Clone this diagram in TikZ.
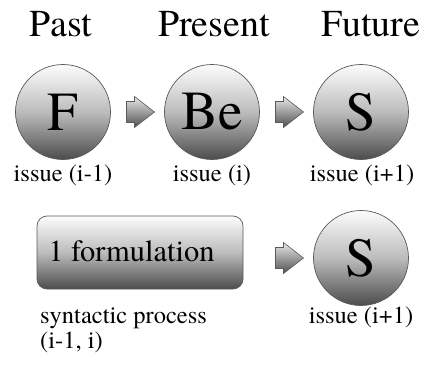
\documentclass[tikz,border=0pt]{standalone}
\usepackage{fontspec}
\setmainfont{texgyretermes}[Extension=.otf, UprightFont=*-regular, BoldFont=*-bold]
\newfontfamily\tmsfont{texgyretermes}[Extension=.otf, UprightFont=*-regular]
\usetikzlibrary{calc}
\definecolor{sbot}{HTML}{4C4C4C}
\definecolor{smid}{HTML}{BCBCBC}
\definecolor{stop}{HTML}{FCFCFC}
\definecolor{edgec}{HTML}{5A5A5A}
\definecolor{abot}{HTML}{505050}
\definecolor{atop}{HTML}{E8E8E8}
\pgfdeclareverticalshading{ballsh}{100bp}{color(0bp)=(sbot); color(25bp)=(sbot); color(50bp)=(smid); color(75bp)=(stop); color(100bp)=(stop)}
\pgfdeclareverticalshading{arrsh}{100bp}{color(0bp)=(abot); color(25bp)=(abot); color(75bp)=(atop); color(100bp)=(atop)}
\tikzset{
  every node/.style={font=\tmsfont},
  ball/.style={circle, draw=edgec, line width=0.7pt, shading=ballsh, minimum size=95pt, inner sep=0pt, font=\tmsfont\fontsize{55}{55}\selectfont},
  formbox/.style={draw=edgec, line width=0.7pt, rounded corners=10pt, shading=ballsh, minimum width=206pt, minimum height=73pt, inner sep=0pt},
  heading/.style={anchor=base, inner sep=0pt, font=\tmsfont\fontsize{38}{38}\selectfont},
  lbl/.style={anchor=base, inner sep=0pt, font=\tmsfont\fontsize{24.5}{24.5}\selectfont},
  formtext/.style={anchor=base, inner sep=0pt, font=\tmsfont\fontsize{30.5}{30.5}\selectfont},
  blockarr/.style={draw=edgec, line width=0.6pt, shading=arrsh}
}
\newcommand{\blockarrow}[1]{%
  \path[blockarr, shift={(#1)}] (-14,-10.5) -- (-6,-10.5) -- (-6,-15.5) -- (14,0) -- (-6,15.5) -- (-6,10.5) -- (-14,10.5) -- cycle;}
\begin{document}
\begin{tikzpicture}[x=1pt, y=-1pt]
\useasboundingbox (0,0) rectangle (425,364);
% headings
\node[heading] (hpast) at (61,36) {Past};
\node[heading] (hpres) at (214,36) {Present};
\node[heading] (hfut) at (371,36) {Future};
% top row
\node[ball] (F) at (63,112) {F};
\node[ball] (Be) at (212,112) {Be};
\node[ball] (S1) at (361,112) {S};
\coordinate (a1) at ($(F)!0.52!(Be)$);
\coordinate (a2) at ($(Be)!0.52!(S1)$);
\blockarrow{a1}
\blockarrow{a2}
\node[lbl] (l1) at (63,181) {issue (i-1)};
\node[lbl] (l2) at (212,181) {issue (i)};
\node[lbl] (l3) at (362,181) {issue (i+1)};
% bottom row
\node[formbox] (form) at (140,252.5) {};
\node[formtext] (formtxt) at (131.5,261) {1 formulation};
\node[ball] (S2) at (361,258) {S};
\coordinate (a3) at (a2 |- S2);
\blockarrow{a3}
\node[lbl, anchor=base west] (p1) at (40,323) {syntactic process};
\node[lbl, anchor=base west] (p2) at (40,348) {(i-1, i)};
\node[lbl] (l4) at (361,323) {issue (i+1)};
\end{tikzpicture}
\end{document}
